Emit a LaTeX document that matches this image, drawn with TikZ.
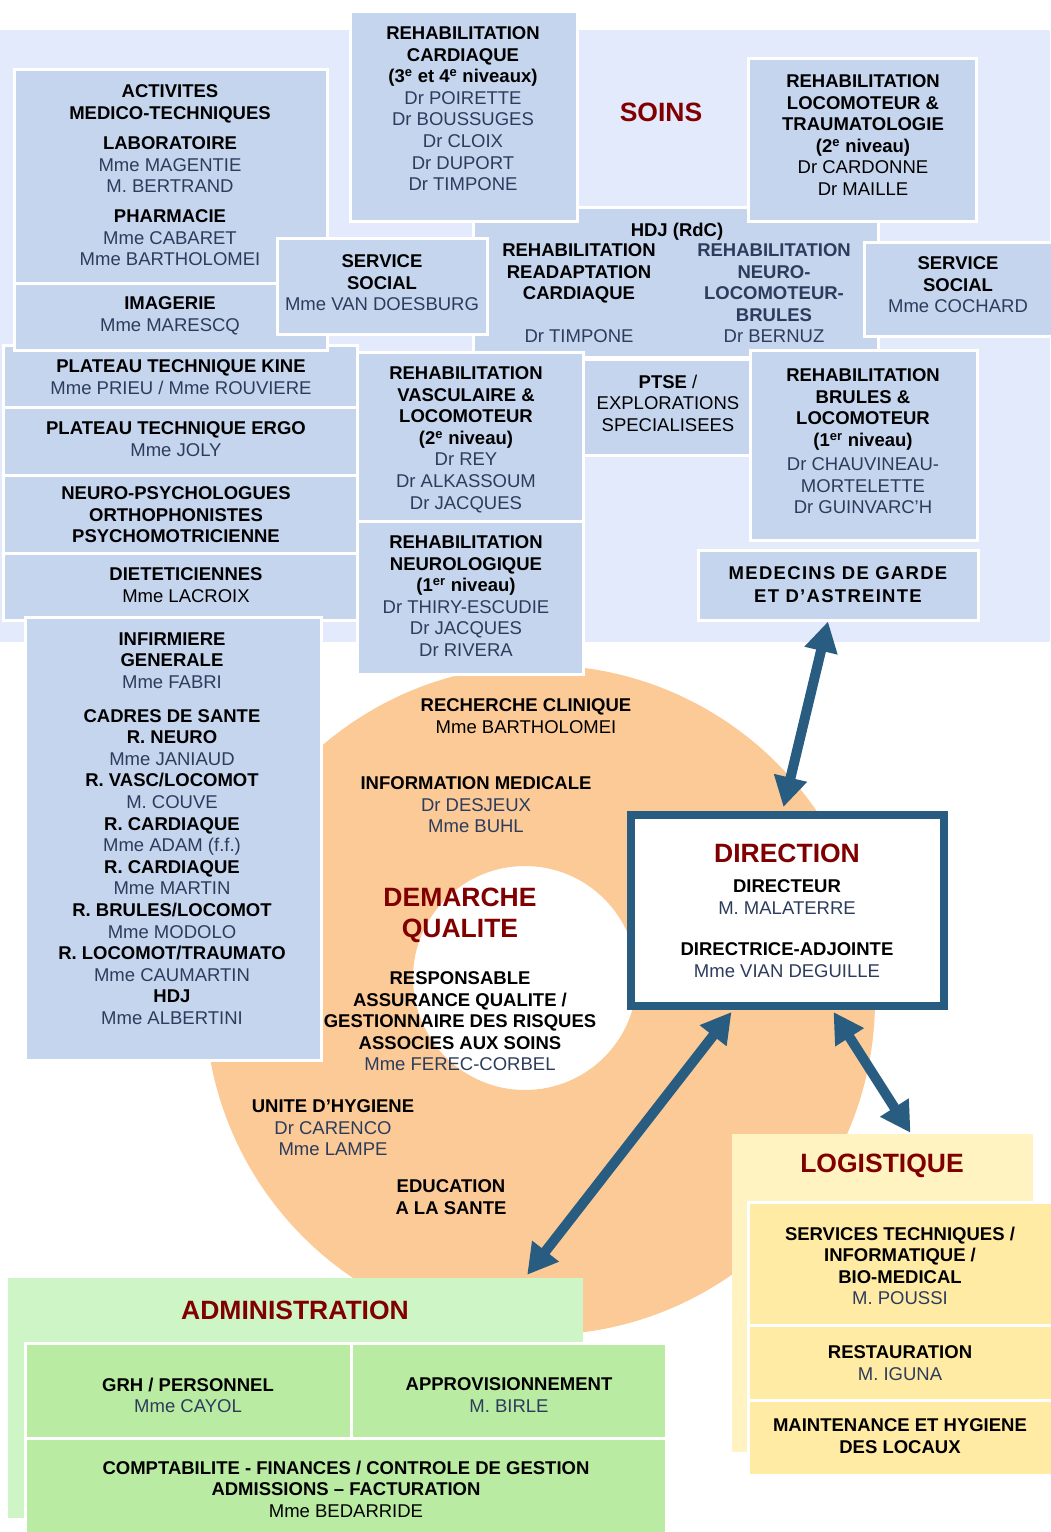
\documentclass[tikz,border=0pt]{standalone}
\usepackage{fontspec}
\setmainfont{Liberation Sans}
\usetikzlibrary{arrows.meta}

\definecolor{soinsbg}{RGB}{227,234,251}
\definecolor{soinsbox}{RGB}{197,213,238}
\definecolor{titlered}{RGB}{128,0,0}
\definecolor{namecol}{RGB}{45,60,92}
\definecolor{ringcol}{RGB}{252,202,150}
\definecolor{arrowcol}{RGB}{40,92,128}
\definecolor{adminbg}{RGB}{206,245,198}
\definecolor{adminbox}{RGB}{185,236,162}
\definecolor{logibg}{RGB}{255,243,194}
\definecolor{logibox}{RGB}{255,235,163}

\newcommand{\nm}[1]{\textcolor{namecol}{#1}}

\tikzstyle{box}=[fill=soinsbox, draw=white, line width=3pt]
\tikzstyle{gbox}=[fill=adminbox, draw=white, line width=3pt]
\tikzstyle{ybox}=[fill=logibox, draw=white, line width=3pt]
\tikzstyle{txt}=[anchor=north, inner sep=0pt, align=center, font=\fontsize{18.5}{21.6}\selectfont]
\tikzstyle{big}=[inner sep=0pt, align=center, text=titlered, font=\fontsize{26.5}{31}\selectfont\bfseries]
\tikzstyle{link}=[line width=10pt, arrowcol, {Triangle[length=30pt,width=32pt]}-{Triangle[length=30pt,width=32pt]}]

\begin{document}
\begin{tikzpicture}[x=1pt, y=-1pt]
\useasboundingbox (0,0) rectangle (1050,1532);
% Soins
    \fill[soinsbg] (0,30) rectangle (1050,642);
% Demarche qualite ring
    \fill[ringcol, even odd rule] (540,1000) circle (335pt) (525,978) circle (112pt);
% Left column
    \draw[box] (3,345) rectangle (357,407);
    \node[txt] (kine) at (181,359.4) {\textbf{PLATEAU TECHNIQUE KINE}\\\nm{Mme PRIEU / Mme ROUVIERE}};
    \draw[box] (3,407) rectangle (357,475);
    \node[txt] (ergo) at (176,421.4) {\textbf{PLATEAU TECHNIQUE ERGO}\\\nm{Mme JOLY}};
    \draw[box] (3,475) rectangle (357,553);
    \node[txt] (neuropsy) at (176,486.4) {\textbf{NEURO-PSYCHOLOGUES}\\\textbf{ORTHOPHONISTES}\\\textbf{PSYCHOMOTRICIENNE}};
    \draw[box] (3,553) rectangle (357,620);
    \node[txt] (diet) at (186,567.4) {\textbf{DIETETICIENNES}\\Mme LACROIX};
    \draw[box] (14,69) rectangle (327,283);
    \node[txt] (activ) at (170,84.4) {\textbf{ACTIVITES}\\\textbf{MEDICO-TECHNIQUES}\\[9pt]\textbf{LABORATOIRE}\\\nm{Mme MAGENTIE}\\\nm{M. BERTRAND}\\[8pt]\textbf{PHARMACIE}\\\nm{Mme CABARET}\\\nm{Mme BARTHOLOMEI}};
    \draw[box] (14,283) rectangle (327,350);
    \node[txt] (imag) at (170,296.4) {\textbf{IMAGERIE}\\\nm{Mme MARESCQ}};
% HDJ
    \draw[box] (473,207) rectangle (878,357);
    \node[txt] (hdj) at (677,222.4) {\textbf{HDJ (RdC)}};
    \node[txt] (hdjcard) at (579,243.4) {\textbf{REHABILITATION}\\\textbf{READAPTATION}\\\textbf{CARDIAQUE}\\[21.6pt]\nm{Dr TIMPONE}};
    \node[txt, text=namecol] (hdjneuro) at (774,243.4) {\textbf{REHABILITATION}\\\textbf{NEURO-}\\\textbf{LOCOMOTEUR-}\\\textbf{BRULES}\\Dr BERNUZ};
% Services
    \draw[box] (350,11) rectangle (577,221);
    \node[txt] (cardio) at (463,26.4) {\textbf{REHABILITATION}\\\textbf{CARDIAQUE}\\\textbf{(3\textsuperscript{e} et 4\textsuperscript{e} niveaux)}\\\nm{Dr POIRETTE}\\\nm{Dr BOUSSUGES}\\\nm{Dr CLOIX}\\\nm{Dr DUPORT}\\\nm{Dr TIMPONE}};
    \draw[box] (748,58) rectangle (976,221);
    \node[txt] (locomot) at (863,74.4) {\textbf{REHABILITATION}\\\textbf{LOCOMOTEUR \&}\\\textbf{TRAUMATOLOGIE}\\\textbf{(2\textsuperscript{e} niveau)}\\Dr CARDONNE\\Dr MAILLE};
    \node[big] (soins) at (661,112) {SOINS};
    \draw[box] (277,238) rectangle (487,334);
    \node[txt] (social) at (382,254.4) {\textbf{SERVICE}\\\textbf{SOCIAL}\\\nm{Mme VAN DOESBURG}};
    \draw[box] (864,242) rectangle (1053,336);
    \node[txt] (socialb) at (958,256.4) {\textbf{SERVICE}\\\textbf{SOCIAL}\\\nm{Mme COCHARD}};
    \draw[box] (357,352) rectangle (583,521);
    \node[txt] (vasc) at (466,366.4) {\textbf{REHABILITATION}\\\textbf{VASCULAIRE \&}\\\textbf{LOCOMOTEUR}\\\textbf{(2\textsuperscript{e} niveau)}\\\nm{Dr REY}\\\nm{Dr ALKASSOUM}\\\nm{Dr JACQUES}};
    \draw[box] (357,521) rectangle (583,674);
    \node[txt] (neurol) at (466,535.4) {\textbf{REHABILITATION}\\\textbf{NEUROLOGIQUE}\\\textbf{(1\textsuperscript{er} niveau)}\\\nm{Dr THIRY-ESCUDIE}\\\nm{Dr JACQUES}\\\nm{Dr RIVERA}};
    \draw[box] (583,359) rectangle (750,455);
    \node[txt] (ptse) at (668,374.4) {\textbf{PTSE} /\\EXPLORATIONS\\SPECIALISEES};
    \draw[box] (750,350) rectangle (977,540);
    \node[txt] (brules) at (863,368.4) {\textbf{REHABILITATION}\\\textbf{BRULES \&}\\\textbf{LOCOMOTEUR}\\\textbf{(1\textsuperscript{er} niveau)}\\[2.5pt]\nm{Dr CHAUVINEAU-}\\\nm{MORTELETTE}\\\nm{Dr GUINVARC’H}};
    \node[box, minimum width=280pt, minimum height=70pt, align=center, inner sep=0pt,
      font=\fontsize{18.5}{23}\selectfont\bfseries\addfontfeatures{LetterSpace=7}] (garde) at (838,585)
      {MEDECINS DE GARDE\\ET D’ASTREINTE};
    \draw[box] (25,617) rectangle (321,1060);
    \node[txt] (infirm) at (172,632.4) {\textbf{INFIRMIERE}\\\textbf{GENERALE}\\\nm{Mme FABRI}\\[12pt]\textbf{CADRES DE SANTE}\\\textbf{R. NEURO}\\\nm{Mme JANIAUD}\\\textbf{R. VASC/LOCOMOT}\\\nm{M. COUVE}\\\textbf{R. CARDIAQUE}\\\nm{Mme ADAM (f.f.)}\\\textbf{R. CARDIAQUE}\\\nm{Mme MARTIN}\\\textbf{R. BRULES/LOCOMOT}\\\nm{Mme MODOLO}\\\textbf{R. LOCOMOT/TRAUMATO}\\\nm{Mme CAUMARTIN}\\\textbf{HDJ}\\\nm{Mme ALBERTINI}};
% Ring texts
    \node[txt] (recherche) at (526,698.4) {\textbf{RECHERCHE CLINIQUE}\\Mme BARTHOLOMEI};
    \node[txt] (infomed) at (476,776.4) {\textbf{INFORMATION MEDICALE}\\\nm{Dr DESJEUX}\\\nm{Mme BUHL}};
    \node[big, anchor=north] (qualite) at (460,887.5) {DEMARCHE\\QUALITE};
    \node[txt] (respons) at (460,971.4) {\textbf{RESPONSABLE}\\\textbf{ASSURANCE QUALITE /}\\\textbf{GESTIONNAIRE DES RISQUES}\\\textbf{ASSOCIES AUX SOINS}\\\nm{Mme FEREC-CORBEL}};
    \node[txt] (hygiene) at (333,1099.4) {\textbf{UNITE D’HYGIENE}\\\nm{Dr CARENCO}\\\nm{Mme LAMPE}};
    \node[txt] (education) at (451,1179.4) {\textbf{EDUCATION}\\\textbf{A LA SANTE}};
% Direction
    \node[draw=arrowcol, line width=8pt, fill=white, minimum width=313pt, minimum height=191pt] (dir) at (787.5,910.5) {};
    \node[big] (dirtitle) at (787,853) {DIRECTION};
    \node[txt] (dirbody) at (787,879.4) {\textbf{DIRECTEUR}\\\nm{M. MALATERRE}\\[20pt]\textbf{DIRECTRICE-ADJOINTE}\\\nm{Mme VIAN DEGUILLE}};
% Administration
    \node[fill=adminbg, minimum width=575pt, minimum height=240pt, inner sep=0pt] (admin) at (295.5,1398) {};
    \node[big] (admintitle) at (295,1310) {ADMINISTRATION};
    \draw[gbox] (25,1343) rectangle (351,1438);
    \node[txt] (grh) at (188,1377.4) {\textbf{GRH / PERSONNEL}\\\nm{Mme CAYOL}};
    \draw[gbox] (351,1343) rectangle (666,1438);
    \node[txt] (appro) at (509,1377.4) {\textbf{APPROVISIONNEMENT}\\\nm{M. BIRLE}};
    \draw[gbox] (25,1438) rectangle (666,1536);
    \node[txt] (compta) at (346,1460.4) {\textbf{COMPTABILITE - FINANCES / CONTROLE DE GESTION}\\\textbf{ADMISSIONS – FACTURATION}\\Mme BEDARRIDE};
% Logistique
    \node[fill=logibg, minimum width=301pt, minimum height=318pt, inner sep=0pt] (logist) at (882.5,1293) {};
    \node[big] (logititle) at (882,1166) {LOGISTIQUE};
    \draw[ybox] (748,1202) rectangle (1053,1325);
    \node[txt] (techn) at (900,1226.4) {\textbf{SERVICES TECHNIQUES /}\\\textbf{INFORMATIQUE /}\\\textbf{BIO-MEDICAL}\\\nm{M. POUSSI}};
    \draw[ybox] (748,1325) rectangle (1053,1400);
    \node[txt] (restau) at (900,1345.4) {\textbf{RESTAURATION}\\\nm{M. IGUNA}};
    \draw[ybox] (748,1400) rectangle (1053,1475);
    \node[txt] (maint) at (900,1418.4) {\textbf{MAINTENANCE ET HYGIENE}\\\textbf{DES LOCAUX}};
% Links
    \draw[link] ([xshift=-10pt]garde.south) -- ([xshift=-4pt,yshift=4pt]dir.north);
    \draw[link] ([xshift=-56pt,yshift=-2pt]dir.south) -- ([xshift=-56pt,yshift=3pt]admin.north east);
    \draw[link] ([xshift=46pt,yshift=-2pt]dir.south) -- ([xshift=28pt,yshift=1pt]logist.north);
\end{tikzpicture}
\end{document}
